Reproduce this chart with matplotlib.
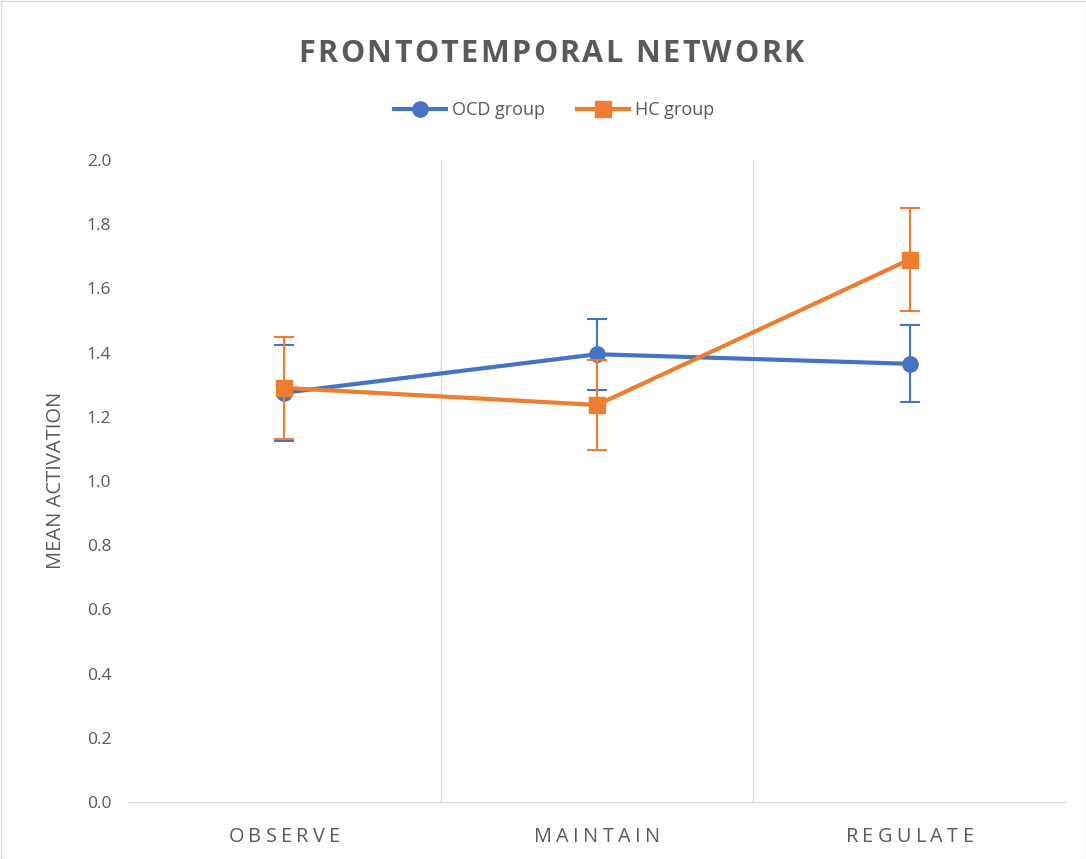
import matplotlib
matplotlib.use("Agg")
import matplotlib.pyplot as plt
from matplotlib.patches import Rectangle
from matplotlib.lines import Line2D
from matplotlib.font_manager import FontProperties, findfont
from matplotlib.ft2font import FT2Font

categories = ["OBSERVE", "MAINTAIN", "REGULATE"]
ocd_mean = [1.275, 1.395, 1.365]
ocd_err = [0.15, 0.11, 0.12]
hc_mean = [1.29, 1.237, 1.69]
hc_err = [0.16, 0.14, 0.16]
yticks = [0.0, 0.2, 0.4, 0.6, 0.8, 1.0, 1.2, 1.4, 1.6, 1.8, 2.0]
title = "FRONTOTEMPORAL NETWORK"

plt.rcParams['font.family'] = ['Open Sans', 'DejaVu Sans']

W, H = 1086, 859
DPI = 100
GRAY = "#595959"
fig = plt.figure(figsize=(W/DPI, H/DPI), dpi=DPI)
AX_L, AX_R, AX_T, AX_B = 128, 1066, 160, 802
ax = fig.add_axes([AX_L/W, 1-AX_B/H, (AX_R-AX_L)/W, (AX_B-AX_T)/H])


def tracked_text(s, cx, baseline, size, tracking, weight='normal', color=GRAY):
    fp = FontProperties(family='Open Sans', weight=weight)
    font = FT2Font(findfont(fp))
    font.set_size(size, DPI)
    adv = []
    for ch in s:
        g = font.load_char(ord(ch))
        adv.append(g.linearHoriAdvance / 65536.0)
    total = sum(adv) + tracking * (len(s) - 1)
    x = cx - total / 2
    for ch, a in zip(s, adv):
        if ch != " ":
            fig.text(x / W, 1 - baseline / H, ch, ha='left', va='baseline',
                     fontsize=size, fontweight=weight, color=color, family='Open Sans')
        x += a + tracking


x = list(range(len(categories)))
blue = "#4472C4"
orange = "#ED7D31"
ax.errorbar(x, ocd_mean, yerr=ocd_err, color=blue, lw=3, marker='o', ms=11,
            ecolor=blue, elinewidth=1.5, capsize=7, capthick=1.5, zorder=3)
ax.errorbar(x, hc_mean, yerr=hc_err, color=orange, lw=3, marker='s', ms=11,
            ecolor=orange, elinewidth=1.5, capsize=7, capthick=1.5, zorder=4)

ax.set_xlim(-0.5, 2.5)
ax.set_ylim(0, 2.0)
ax.set_yticks(yticks)
ax.set_yticklabels([f"{v:.1f}" for v in yticks], fontsize=12.5, color=GRAY)
ax.set_xticks(x)
ax.set_xticklabels([])
ax.tick_params(axis='both', length=0, pad=12)
for xv in [0.5, 1.5]:
    ax.axvline(xv, color="#D9D9D9", lw=1, zorder=0)
for s in ['top', 'right', 'left']:
    ax.spines[s].set_visible(False)
ax.spines['bottom'].set_color("#D9D9D9")
fig.text(56/W, 1-480/H, "MEAN ACTIVATION", rotation=90, ha='center', va='center',
         fontsize=14.5, color=GRAY)

span = (AX_R - AX_L) / len(categories)
for i, c in enumerate(categories):
    tracked_text(c, AX_L + (i + 0.5) * span, 842, 14.3, 4.4)

tracked_text(title, 551, 62, 22, 2.4, weight='bold')

h1 = Line2D([], [], color=blue, lw=3, marker='o', ms=11)
h2 = Line2D([], [], color=orange, lw=3, marker='s', ms=11)
leg = fig.legend(handles=[h1, h2], labels=["OCD group", "HC group"], loc='center',
                 bbox_to_anchor=(554/W, 1-110/H), ncol=2, frameon=False, fontsize=13,
                 handlelength=2.9, columnspacing=1.8, handletextpad=0.3)
for t in leg.get_texts():
    t.set_color(GRAY)

fig.patches.append(Rectangle((0.5/W, 0.5/H), 1-1/W, 1-1/H, transform=fig.transFigure,
                             fill=False, edgecolor="#D9D9D9", lw=1))
fig.savefig("out.png", dpi=DPI)
